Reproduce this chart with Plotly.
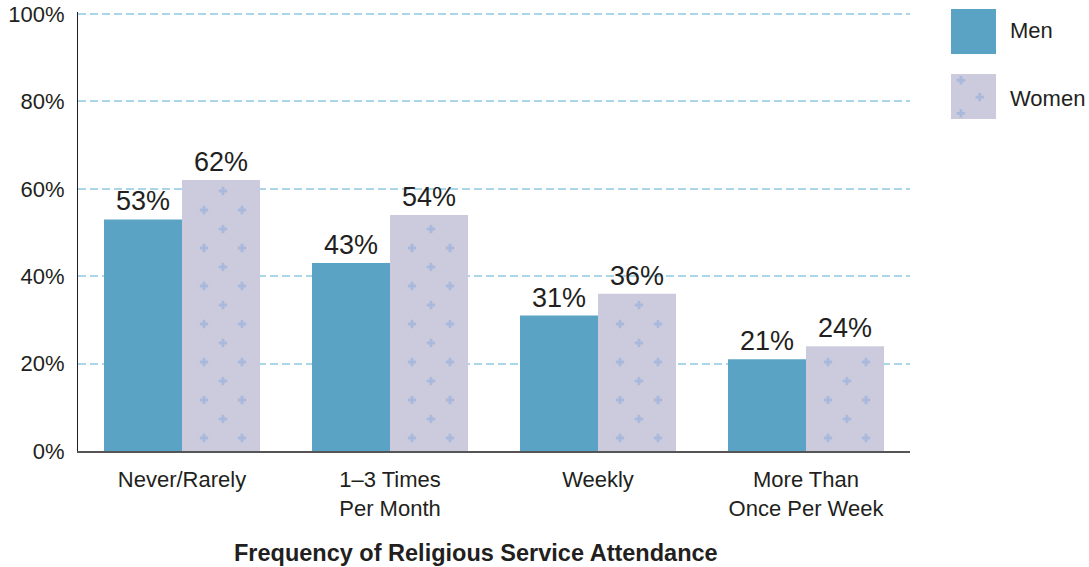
import numpy as np
import plotly.graph_objects as go

categories = ["Never/Rarely", "1–3 Times<br>Per Month", "Weekly", "More Than<br>Once Per Week"]
men = [53, 43, 31, 21]
women = [62, 54, 36, 24]
series_names = ["Men", "Women"]
y_ticks = [0, 20, 40, 60, 80, 100]

MEN_COLOR = "#5ba3c4"
WOMEN_BG = "#cccbdd"
PLUS_COLOR = "#a8b9db"
FONT = "Liberation Sans, Arial, Helvetica, sans-serif"
TXT = "#231f20"

W, H = 1089, 567
L, R, T, B = 78, 5, 5, 116
pw = W - L - R
ph = H - T - B
Y_MAX = 100.5
PX_PER_PCT = 4.37          # vertical pixels per percentage point
PX_PER_CAT = 208.0         # horizontal pixels per category


def px_x(x):
    return (x - L) / pw


def px_y(y):
    return (H - B - y) / ph


fig = go.Figure()
fig.add_trace(go.Bar(
    x=list(range(len(categories))), y=men, name=series_names[0],
    marker=dict(color=MEN_COLOR, line=dict(width=0)),
    text=[f"{v}%" for v in men], textposition="outside",
    textfont=dict(size=27, color=TXT, family=FONT), cliponaxis=False,
    showlegend=False,
))
fig.add_trace(go.Bar(
    x=list(range(len(categories))), y=women, name=series_names[1],
    marker=dict(color=WOMEN_BG, line=dict(width=0)),
    text=[f"{v}%" for v in women], textposition="outside",
    textfont=dict(size=27, color=TXT, family=FONT), cliponaxis=False,
    showlegend=False,
))

# "+" texture on the Women bars, laid out inside each bar from its value
row_step = 19.0 / PX_PER_PCT
tex_x, tex_y = [], []
for i, v in enumerate(women):
    for k, yy in enumerate(np.arange(13.0 / PX_PER_PCT, v - 5.0 / PX_PER_PCT, row_step)):
        offs = [22, 60] if k % 2 == 0 else [41]
        for o in offs:
            tex_x.append(i + o / PX_PER_CAT)
            tex_y.append(yy)
fig.add_trace(go.Scatter(
    x=tex_x, y=tex_y, mode="markers",
    marker=dict(symbol="cross", size=7, color=PLUS_COLOR, line=dict(width=0)),
    showlegend=False, hoverinfo="skip",
))

# legend swatches drawn as bars on a small auxiliary axis
fig.add_trace(go.Bar(
    y=[1], x=[1], orientation="h", xaxis="x2", yaxis="y2",
    width=0.692, marker=dict(color=MEN_COLOR, line=dict(width=0)),
    showlegend=False, hoverinfo="skip",
))
fig.add_trace(go.Bar(
    y=[0], x=[1], orientation="h", xaxis="x2", yaxis="y2",
    width=0.692, marker=dict(color=WOMEN_BG, line=dict(width=0)),
    showlegend=False, hoverinfo="skip",
))
fig.add_trace(go.Scatter(
    x=[0.22, 0.64, 0.22], y=[0.25, -0.01, -0.26], mode="markers", xaxis="x2", yaxis="y2",
    marker=dict(symbol="cross", size=7, color=PLUS_COLOR, line=dict(width=0)),
    showlegend=False, hoverinfo="skip",
))

fig.update_layout(
    width=W, height=H,
    margin=dict(l=L, r=R, t=T, b=B, autoexpand=False),
    paper_bgcolor="white", plot_bgcolor="white",
    barmode="group", bargap=0.25, bargroupgap=0,
    font=dict(family=FONT, size=22, color=TXT),
    xaxis=dict(
        domain=[0, px_x(910)], range=[-0.5, 3.5],
        tickvals=list(range(len(categories))), ticktext=categories,
        showline=True, linecolor="#555555", linewidth=2,
        showgrid=False, zeroline=False, ticks="", tickfont=dict(size=22, color=TXT),
        ticklabelstandoff=8, automargin=False,
    ),
    yaxis=dict(
        domain=[0, px_y(451 - Y_MAX * PX_PER_PCT)], range=[0, Y_MAX],
        tickvals=y_ticks, ticktext=[f"{v}%" for v in y_ticks],
        showline=True, linecolor="#231f20", linewidth=1,
        showgrid=True, gridcolor="#a9d6e8", griddash="8px,4px", gridwidth=1.5,
        zeroline=False, ticks="", tickfont=dict(size=22, color=TXT),
        ticklabelstandoff=8, automargin=False,
    ),
    xaxis2=dict(
        domain=[px_x(951), px_x(996)], range=[0, 1], anchor="y2",
        visible=False, fixedrange=True, automargin=False,
    ),
    yaxis2=dict(
        domain=[px_y(119), px_y(9)], range=[-0.346, 1.346], anchor="x2",
        visible=False, fixedrange=True, automargin=False,
    ),
)

fig.add_annotation(x=px_x(1008), y=px_y(31), xref="paper", yref="paper",
                   text=series_names[0], showarrow=False, xanchor="left", yanchor="middle",
                   font=dict(size=22, color=TXT))
fig.add_annotation(x=px_x(1008), y=px_y(98), xref="paper", yref="paper",
                   text=series_names[1], showarrow=False, xanchor="left", yanchor="middle",
                   font=dict(size=22, color=TXT))
fig.add_annotation(x=px_x(476), y=px_y(553), xref="paper", yref="paper",
                   text="<b>Frequency of Religious Service Attendance</b>", showarrow=False,
                   xanchor="center", yanchor="middle",
                   font=dict(size=23.5, color=TXT))

fig.write_html("out.html", config={"displayModeBar": False},
               post_script="document.body.style.margin='0px';")
